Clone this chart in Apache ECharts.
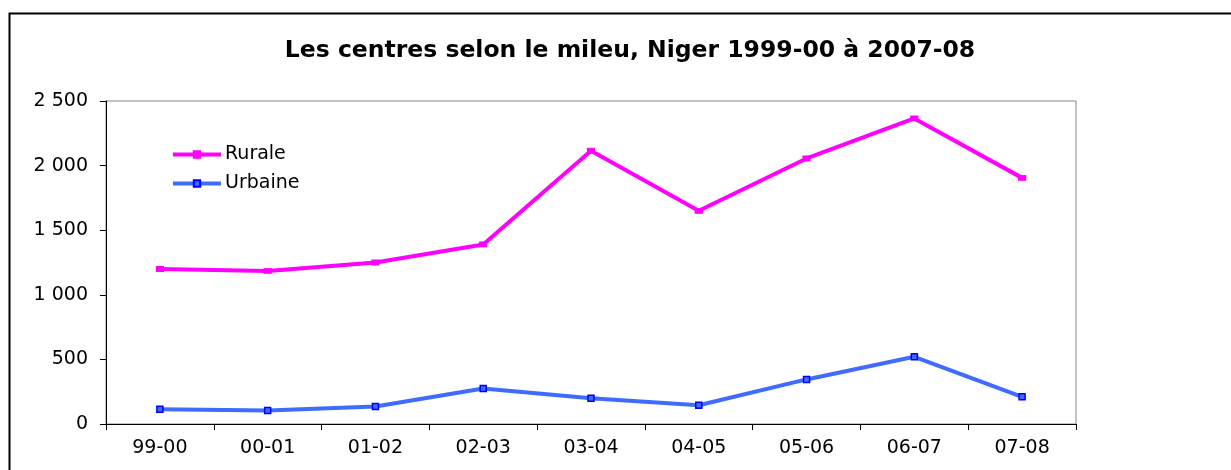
<!DOCTYPE html>
<html>
<head>
<meta charset="utf-8">
<script src="https://cdn.jsdelivr.net/npm/echarts@6/dist/echarts.min.js"></script>
<style>
  html, body { margin: 0; padding: 0; background: #fff; }
  #chart { width: 1231px; height: 470px; }
</style>
</head>
<body>
<div id="chart"></div>
<script>
// données
var annees = ['99-00', '00-01', '01-02', '02-03', '03-04', '04-05', '05-06', '06-07', '07-08'];
var rurale = [1200, 1185, 1250, 1390, 2115, 1650, 2055, 2365, 1905];
var urbaine = [115, 105, 135, 275, 200, 145, 345, 520, 210];
var yTicks = [0, 500, 1000, 1500, 2000, 2500];

var myChart = echarts.init(document.getElementById('chart'));

function fmt(v) {
    // séparateur de milliers avec espace
    return String(v).replace(/\B(?=(\d{3})+(?!\d))/g, ' ');
}

var option = {
    animation: false,
    backgroundColor: '#fff',
    textStyle: { fontFamily: 'DejaVu Sans, sans-serif' },
    title: {
        text: 'Les centres selon le mileu, Niger 1999-00 à 2007-08',
        left: 625,
        top: 34,
        textAlign: 'center',
        textStyle: { fontSize: 23.5, fontWeight: 'bold', color: '#000', fontFamily: 'DejaVu Sans' }
    },
    legend: {
        left: 166,
        top: 140,
        orient: 'vertical',
        itemGap: 10,
        itemWidth: 48,
        itemHeight: 8,
        lineStyle: { width: 4 },
        textStyle: { fontSize: 19, color: '#000', padding: [0, 0, 0, -1] },
        data: ['Rurale', 'Urbaine']
    },
    grid: {
        left: 106,
        right: 155,
        top: 101,
        bottom: 46,
        show: true,
        borderColor: '#888',
        borderWidth: 1
    },
    xAxis: {
        type: 'category',
        data: annees,
        boundaryGap: true,
        axisLine: { lineStyle: { color: '#000', width: 1 } },
        axisTick: { show: true, length: 6, inside: false, lineStyle: { color: '#000' } },
        axisLabel: { fontSize: 19, color: '#000', margin: 15 },
        splitLine: { show: false }
    },
    yAxis: {
        type: 'value',
        min: yTicks[0],
        max: yTicks[yTicks.length - 1],
        interval: 500,
        axisLine: { show: true, lineStyle: { color: '#000', width: 1 } },
        axisTick: { show: true, length: 6, lineStyle: { color: '#000' } },
        axisLabel: { fontSize: 19, color: '#000', margin: 18, formatter: fmt },
        splitLine: { show: false }
    },
    series: [
        {
            name: 'Rurale',
            type: 'line',
            data: rurale,
            symbol: 'rect',
            symbolSize: [7, 5],
            lineStyle: { color: '#ff00ff', width: 4 },
            itemStyle: { color: '#ff00ff', borderColor: '#ff00ff', borderWidth: 1 }
        },
        {
            name: 'Urbaine',
            type: 'line',
            data: urbaine,
            symbol: 'rect',
            symbolSize: 6,
            lineStyle: { color: '#3f6bff', width: 4 },
            itemStyle: { color: '#3f6bff', borderColor: '#0000ff', borderWidth: 1.5 }
        }
    ],
    graphic: [
        {
            type: 'rect',
            shape: { x: 9.5, y: 13.5, width: 1300, height: 600 },
            style: { fill: 'none', stroke: '#000', lineWidth: 2 },
            silent: true
        }
    ]
};

myChart.setOption(option);
window.addEventListener('resize', function () {
    myChart.resize();
});
</script>
</body>
</html>
